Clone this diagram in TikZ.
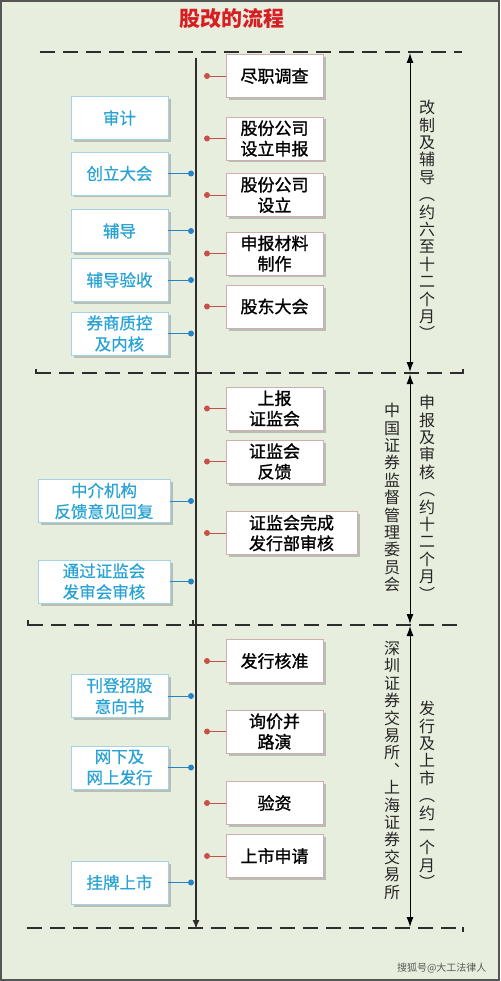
\documentclass[tikz,border=0pt]{standalone}
\usepackage{fontspec}
\newfontfamily\cjk{Noto Sans CJK SC}
\newfontfamily\cjkm[FakeBold=1.2]{Noto Sans CJK SC}
\newfontfamily\cjkl[FakeBold=0.6]{Noto Sans CJK SC}
\usetikzlibrary{arrows.meta,shadows}
\definecolor{bgc}{RGB}{231,238,222}
\definecolor{framec}{RGB}{85,85,85}
\definecolor{bluetext}{RGB}{41,163,212}
\definecolor{blueedge}{RGB}{165,210,228}
\definecolor{blueline}{RGB}{40,130,200}
\definecolor{rededge}{RGB}{205,175,175}
\definecolor{redline}{RGB}{200,80,75}
\definecolor{titlered}{RGB}{215,30,35}
\definecolor{linec}{RGB}{45,45,45}
\tikzset{
  lbox/.style={draw=blueedge, line width=0.8pt, fill=white, text=bluetext,
    minimum width=97pt, minimum height=43pt, inner sep=0pt, align=center,
    font=\cjkl\fontsize{16.5}{21}\selectfont,
    drop shadow={shadow xshift=2.5pt, shadow yshift=-2.5pt, opacity=0.35, fill=black!60}},
  lwide/.style={lbox, minimum width=132pt},
  rbox/.style={draw=rededge, line width=0.8pt, fill=white, text=black,
    minimum width=97pt, minimum height=43pt, inner sep=0pt, align=center,
    font=\cjkm\fontsize{17}{20.5}\selectfont,
    drop shadow={shadow xshift=2.5pt, shadow yshift=-2.5pt, opacity=0.35, fill=black!60}},
  rwide/.style={rbox, minimum width=131pt},
  bdot/.style={circle, fill=blueline, inner sep=0pt, minimum size=6pt},
  rdot/.style={circle, fill=redline, inner sep=0pt, minimum size=6pt},
  bconn/.style={draw=blueline, line width=1pt},
  rconn/.style={draw=redline, line width=0.8pt},
  sep/.style={draw=linec, line width=1.3pt, dash pattern=on 15pt off 8pt},
  tick/.style={draw=linec, line width=1.3pt},
  vcol/.style={anchor=north, inner sep=0pt, align=center, text=black!85,
    font=\cjk\fontsize{16}{17.4}\selectfont},
  dim/.style={draw=black, line width=1pt, {Latex[length=10pt,width=7pt]}-{Latex[length=10pt,width=7pt]}},
}
\begin{document}
\begin{tikzpicture}[x=1pt,y=-1pt]
\useasboundingbox (0,0) rectangle (500,981);
\fill[bgc] (0,0) rectangle (500,981);
\draw[framec, line width=2pt] (1,1) rectangle (499,980);

% title
\node[text=titlered, font=\cjk\bfseries\fontsize{21}{24}\selectfont] (title) at (232,19) {股改的流程};

% dashed separators
\draw[sep] (40,52) -- (462,52);
\draw[sep] (36,373) -- (463,373);
\draw[tick] (36,369) -- (36,374);
\draw[tick] (463,369) -- (463,374);
\draw[sep] (28,625) -- (463,625);
\draw[tick] (28,620) -- (28,626);
\draw[tick] (193,620) -- (193,626);
\draw[sep] (27,928) -- (463,928);
\draw[tick] (463,927) -- (463,932);

% main time line
\coordinate (mtop) at (196,58);
\coordinate (mbot) at (196,929);
\draw[linec, line width=1.5pt, -{Latex[length=9pt,width=7pt]}] (mtop) -- (mbot);

% right dimension arrows
\coordinate (a0) at (410,53);
\coordinate (a1) at (410,372);
\coordinate (a2) at (410,374);
\coordinate (a3) at (410,624);
\coordinate (a4) at (410,626);
\coordinate (a5) at (410,927);
\draw[dim] (a0) -- (a1);
\draw[dim] (a2) -- (a3);
\draw[dim] (a4) -- (a5);

% vertical texts
\node[vcol] (v1) at (427,100) {改\\制\\及\\辅\\导\\︵\\约\\六\\至\\十\\二\\个\\月\\︶};
\node[vcol] (v2) at (427,395) {申\\报\\及\\审\\核\\︵\\约\\十\\二\\个\\月\\︶};
\node[vcol] (v3) at (392,403) {中\\国\\证\\券\\监\\督\\管\\理\\委\\员\\会};
\node[vcol] (v4) at (392,641) {深\\圳\\证\\券\\交\\易\\所\\︑\\上\\海\\证\\券\\交\\易\\所};
\node[vcol] (v5) at (427,701) {发\\行\\及\\上\\市\\︵\\约\\一\\个\\月\\︶};

% left boxes
\node[lbox] (L1) at (119.5,118) {审计};
\node[lbox] (L2) at (119.5,173.5) {创立大会};
\node[lbox] (L3) at (119.5,231) {辅导};
\node[lbox] (L4) at (119.5,280) {辅导验收};
\node[lbox] (L5) at (119.5,333.5) {券商质控\\及内核};
\node[lwide] (L6) at (104,501) {中介机构\\反馈意见回复};
\node[lwide] (L7) at (104,581.5) {通过证监会\\发审会审核};
\node[lbox] (L8) at (119.5,696) {刊登招股\\意向书};
\node[lbox] (L9) at (119.5,767.5) {网下及\\网上发行};
\node[lbox] (L10) at (119.5,882.5) {挂牌上市};

% blue dots and connectors
\foreach \n/\yy in {2/173.5,3/231,4/280,5/333.5,6/501,7/581.5,8/696,9/767.5,10/882.5}{
  \node[bdot] (B\n) at (191,\yy) {};
  \draw[bconn] (L\n.east) -- (B\n);
}

% right boxes
\node[rbox] (R1) at (274.5,76) {尽职调查};
\node[rbox] (R2) at (274.5,138.5) {股份公司\\设立申报};
\node[rbox] (R3) at (274.5,195) {股份公司\\设立};
\node[rbox] (R4) at (274.5,253.5) {申报材料\\制作};
\node[rbox] (R5) at (274.5,306.5) {股东大会};
\node[rbox] (R6) at (274.5,408.5) {上报\\证监会};
\node[rbox] (R7) at (274.5,461.5) {证监会\\反馈};
\node[rwide] (R8) at (291.5,533) {证监会完成\\发行部审核};
\node[rbox] (R9) at (274.5,661) {发行核准};
\node[rbox] (R10) at (274.5,731.5) {询价并\\路演};
\node[rbox] (R11) at (274.5,803) {验资};
\node[rbox] (R12) at (274.5,856) {上市申请};

% red dots and connectors
\foreach \n/\yy in {1/76,2/138.5,3/195,4/253.5,5/306.5,6/408.5,7/461.5,8/533,9/661,10/731.5,11/803,12/856}{
  \node[rdot] (D\n) at (207,\yy) {};
  \draw[rconn] (D\n) -- (R\n.west);
}

% watermark
\node[text=black!65, font=\cjk\fontsize{10}{12}\selectfont, anchor=east] (wm) at (490,968) {搜狐号@大工法律人};
\end{tikzpicture}
\end{document}
